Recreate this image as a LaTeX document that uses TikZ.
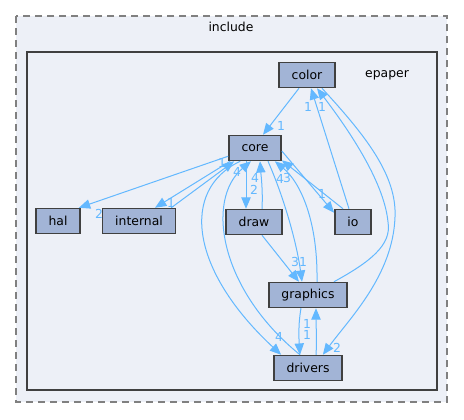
\documentclass[tikz,border=0pt]{standalone}
\usepackage{fontspec}
\setmainfont{DejaVu Sans}
\usepackage{tikz}
\usetikzlibrary{arrows.meta, calc}
\usepackage{xcolor}
\definecolor{dirfill}{HTML}{A2B4D6}
\definecolor{dirline}{HTML}{404040}
\definecolor{clusterbg}{HTML}{EDF0F7}
\definecolor{depblue}{HTML}{63B8FF}

\begin{document}
\begin{tikzpicture}[
    x=0.75pt, y=-0.75pt,
    dirbox/.style={rectangle, draw=dirline, line width=1.1pt, fill=dirfill,
                   minimum height=18.75pt, inner xsep=9.5pt, font=\fontsize{9.3}{11}\selectfont},
    arr/.style={-{Triangle[length=8.5pt, width=7pt]}, draw=depblue, line width=0.75pt},
    cnt/.style={text=depblue, inner sep=0pt, font=\fontsize{9.3}{11}\selectfont},
]
    \useasboundingbox (0,0) rectangle (464,419);

    % Clusters
    \draw[dash pattern=on 5.25pt off 3.75pt, draw=gray, line width=1pt, fill=clusterbg] (16,16) rectangle (447,402);
    \node[font=\fontsize{9.3}{11}\selectfont] (include) at (231,27) {include};
    \draw[draw=dirline, line width=1.6pt, fill=clusterbg] (27,52) rectangle (437,390);
    \node[font=\fontsize{9.3}{11}\selectfont] (epaper) at (387,75) {epaper};

    \node[dirbox] (colordir) at (307,75) {color};
    \node[dirbox] (coredir) at (255,148) {core};
    \node[dirbox] (haldir) at (58,221) {hal};
    \node[dirbox] (internaldir) at (139,221) {internal};
    \node[dirbox] (drawdir) at (254,222) {draw};
    \node[dirbox] (iodir) at (353,222) {io};
    \node[dirbox] (graphicsdir) at (308,295) {graphics};
    \node[dirbox] (driversdir) at (308,368) {drivers};

    % Dependencies
    \draw[arr] ($(colordir.south)+(-8,0)$) -- ($(coredir.north)+(8,0)$);
    \draw[arr] ($(coredir.south west)+(0,-5)$) -- ($(haldir.north east)+(-2,0)$);
    \draw[arr] ($(coredir.south west)+(2,0)$) -- ($(internaldir.north)+(16,0)$);
    \draw[arr] ($(internaldir.north east)+(-5,0)$) -- ($(coredir.south west)+(6,0)$);
    \draw[arr] ($(coredir.south)+(-9,0)$) -- ($(drawdir.north)+(-8,0)$);
    \draw[arr] ($(drawdir.north)+(8,0)$) .. controls (263,190) and (261,175) .. ($(coredir.south)+(5,0)$);
    \draw[arr] ($(coredir.east)+(0,3)$) -- ($(iodir.north west)+(0,4)$);
    \draw[arr] ($(iodir.north)+(-10,0)$) -- ($(coredir.south east)+(0,-1)$);
    \draw[arr] ($(drawdir.south)+(8,0)$) -- ($(graphicsdir.north)+(-9,0)$);
    \draw[arr] ($(coredir.south)+(13,0)$) .. controls (285,200) and (297,245) .. ($(graphicsdir.north)+(-6,0)$);
    \draw[arr] ($(graphicsdir.north)+(9,0)$) .. controls (318,220) and (300,182) .. ($(coredir.south east)+(-7,0)$);
    \draw[arr] ($(coredir.south west)+(12,0)$) .. controls (180,190) and (190,270) .. ($(driversdir.north west)+(8,0)$);
    \draw[arr] ($(driversdir.north)+(-8,0)$) .. controls (220,290) and (205,200) .. ($(coredir.south)+(-4,0)$);
    \draw[arr] ($(graphicsdir.south)+(-7,0)$) .. controls (298,325) and (299,340) .. ($(driversdir.north)+(-8,0)$);
    \draw[arr] ($(driversdir.north)+(8,0)$) .. controls (317,340) and (316,325) .. ($(graphicsdir.south)+(8,0)$);
    \draw[arr] ($(iodir.north)+(-4,0)$) -- ($(colordir.south)+(4,0)$);
    \draw[arr] ($(graphicsdir.north east)+(-14,0)$) .. controls (370,262) and (392,245) .. (388,222)
        .. controls (384,180) and (345,125) .. ($(colordir.south)+(10,0)$);
    \draw[arr] ($(colordir.south)+(15,0)$) .. controls (365,135) and (397,175) .. (395,217)
        .. controls (393,275) and (350,318) .. ($(driversdir.north east)+(-20,0)$);

    % Counts
    \node[cnt] (ncolcore) at (281,126) {1};
    \node[cnt] (ncorehal) at (99,214) {2};
    \node[cnt] (ncoreint) at (171,203) {1};
    \node[cnt] (nintcore) at (222,163) {1};
    \node[cnt] (ndrvcore) at (237,172) {4};
    \node[cnt] (ndrawcore) at (255,178) {4};
    \node[cnt] (ncoredraw) at (254,190) {2};
    \node[cnt] (ngfxcore) at (280,179) {4};
    \node[cnt] (niocore) at (287,178) {3};
    \node[cnt] (ncoreio) at (322,194) {1};
    \node[cnt] (ndrawgfx) at (295,262) {3};
    \node[cnt] (ncoregfx) at (303,262) {1};
    \node[cnt] (ncoredrv) at (279,337) {4};
    \node[cnt] (ngfxdrv) at (307,335) {1};
    \node[cnt] (ndrvgfx) at (307,324) {1};
    \node[cnt] (ncoldrv) at (337,348) {2};
    \node[cnt] (niocol) at (308,107) {1};
    \node[cnt] (ngfxcol) at (322,107) {1};
\end{tikzpicture}
\end{document}
